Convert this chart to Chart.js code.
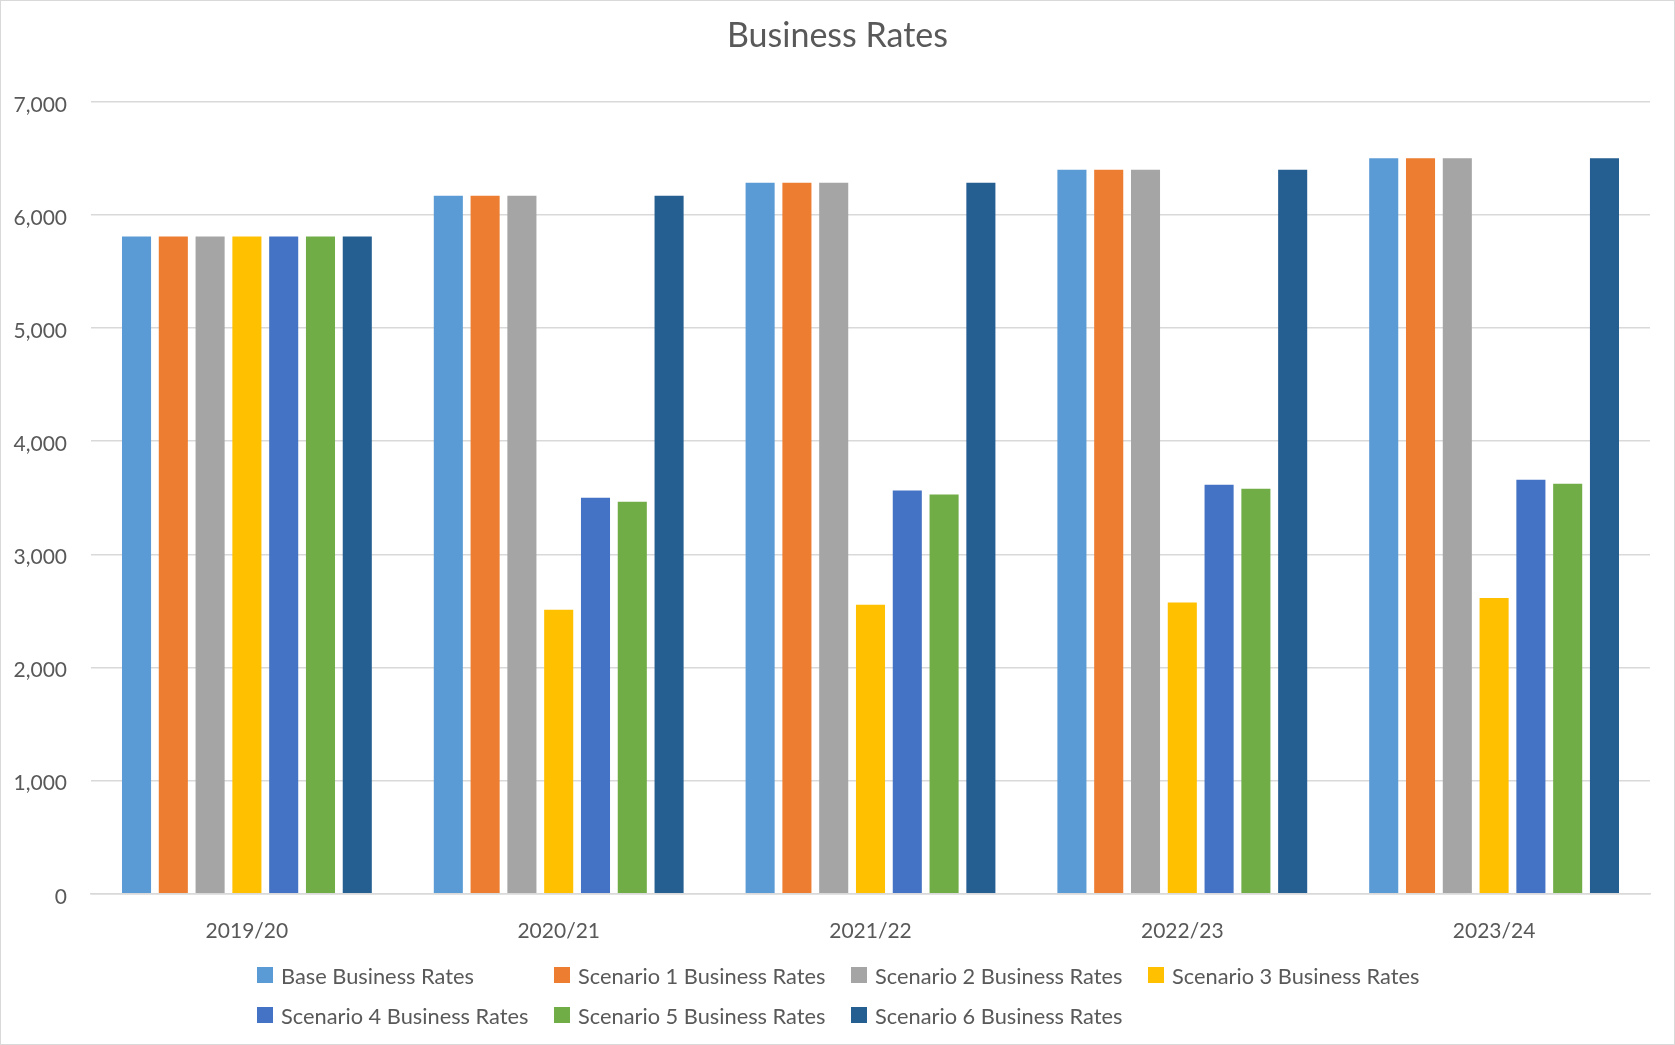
<!DOCTYPE html>
<html>
<head>
<meta charset="utf-8">
<title>Business Rates</title>
<script src="https://cdn.jsdelivr.net/npm/chart.js@4.4.1/dist/chart.umd.min.js"></script>
<style>
  body { margin: 0; background: #fff; }
  #wrap { position: relative; width: 1675px; height: 1045px; box-sizing: border-box; border: 1px solid #d9d9d9; }
  #legend { position: absolute; left: 256px; top: 954px; display: grid; grid-template-columns: repeat(4, 297px); grid-auto-rows: 40px;
            font-family: Lato, "Open Sans", sans-serif; font-size: 21.8px; color: #595959; }
  .item { display: flex; align-items: center; white-space: nowrap; }
  .box { width: 16px; height: 16px; margin-right: 8px; flex: none; }
</style>
</head>
<body>
<div id="wrap">
  <canvas id="chart" width="1673" height="1043"></canvas>
  <div id="legend"></div>
</div>
<script>
var categories = ['2019/20', '2020/21', '2021/22', '2022/23', '2023/24'];
var baseRates = [5810, 6170, 6285, 6400, 6500];
var scenario1 = [5810, 6170, 6285, 6400, 6500];
var scenario2 = [5810, 6170, 6285, 6400, 6500];
var scenario3 = [5810, 2510, 2555, 2575, 2615];
var scenario4 = [5810, 3500, 3565, 3615, 3660];
var scenario5 = [5810, 3465, 3530, 3580, 3625];
var scenario6 = [5810, 6170, 6285, 6400, 6500];
var yTicks = [0, 1000, 2000, 3000, 4000, 5000, 6000, 7000];

var textColor = '#595959';
var gridColor = '#d9d9d9';
var fontFamily = 'Lato, "Open Sans", sans-serif';

function series(label, values, color) {
    return {
        label: label,
        data: values,
        backgroundColor: color,
        borderWidth: 0,
        categoryPercentage: 0.826,
        barPercentage: 0.79
    };
}

// html legend, laid out in equal columns like the original
var htmlLegend = {
    id: 'htmlLegend',
    afterUpdate: function (chart) {
        var box = document.getElementById('legend');
        box.innerHTML = '';
        chart.data.datasets.forEach(function (ds) {
            var item = document.createElement('div');
            item.className = 'item';
            var sw = document.createElement('span');
            sw.className = 'box';
            sw.style.background = ds.backgroundColor;
            var txt = document.createElement('span');
            txt.textContent = ds.label;
            item.appendChild(sw);
            item.appendChild(txt);
            box.appendChild(item);
        });
    }
};

var ctx = document.getElementById('chart');
var chart = new Chart(ctx, {
    type: 'bar',
    data: {
        labels: categories,
        datasets: [
            series('Base Business Rates', baseRates, '#5B9BD5'),
            series('Scenario 1 Business Rates', scenario1, '#ED7D31'),
            series('Scenario 2 Business Rates', scenario2, '#A5A5A5'),
            series('Scenario 3 Business Rates', scenario3, '#FFC000'),
            series('Scenario 4 Business Rates', scenario4, '#4472C4'),
            series('Scenario 5 Business Rates', scenario5, '#70AD47'),
            series('Scenario 6 Business Rates', scenario6, '#255E91')
        ]
    },
    options: {
        responsive: false,
        animation: false,
        layout: { padding: { top: 0, right: 0, bottom: 75, left: 0 } },
        plugins: {
            legend: { display: false },
            tooltip: { enabled: false },
            title: {
                display: true,
                text: 'Business Rates',
                color: textColor,
                font: { family: fontFamily, size: 34, weight: 'normal' },
                padding: { top: 15, bottom: 45 }
            }
        },
        scales: {
            x: {
                grid: { display: false, drawTicks: false },
                border: { display: true, color: gridColor, width: 1.5 },
                ticks: { color: textColor, padding: 25, font: { family: fontFamily, size: 21 } }
            },
            y: {
                min: 0,
                max: 7000,
                afterFit: function (scale) { scale.width = 90; },
                afterBuildTicks: function (scale) {
                    scale.ticks = yTicks.map(function (v) { return { value: v }; });
                },
                grid: { color: gridColor, lineWidth: 1.5, drawTicks: false },
                border: { display: false },
                ticks: {
                    color: textColor,
                    padding: 24,
                    labelOffset: 3,
                    font: { family: fontFamily, size: 21 },
                    callback: function (v) { return v.toLocaleString('en-US'); }
                }
            },
            // empty right margin so the title stays centred on the whole canvas
            gutter: {
                position: 'right',
                min: 0,
                max: 7000,
                afterFit: function (scale) { scale.width = 24; },
                grid: { display: false, drawTicks: false },
                border: { display: false },
                ticks: { display: false }
            }
        }
    },
    plugins: [htmlLegend]
});
</script>
</body>
</html>
